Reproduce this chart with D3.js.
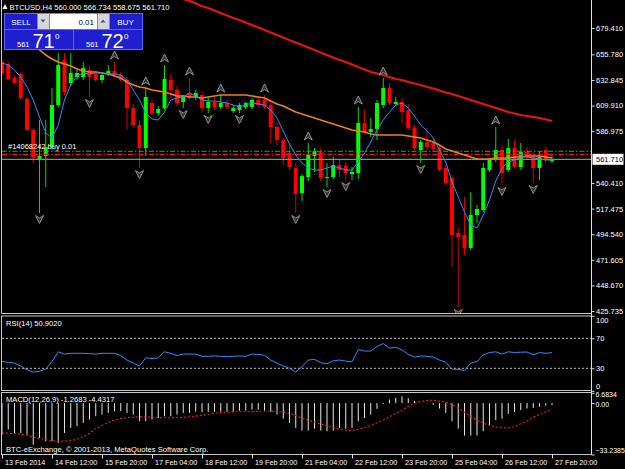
<!DOCTYPE html>
<html>
<head>
<meta charset="utf-8">
<script src="https://cdn.jsdelivr.net/npm/d3@7"></script>
<style>
  html, body { margin: 0; background: #000; overflow: hidden; }
  svg { display: block; }
</style>
</head>
<body>
<div id="chart"></div>
<script>
// BTCUSD H4 — 89 bars, 13 Feb 04:00 .. 27 Feb 20:00
const opens = [648.9,647.1,634.6,638.2,615.8,588.0,562.0,564.7,572.7,610.4,
  650.7,630.1,635.5,635.5,641.8,638.2,632.8,638.2,640.9,637.3,
  632.8,607.7,592.4,571.8,612.2,603.2,607.7,632.8,623.8,613.1,
  621.1,617.6,619.3,607.7,613.1,608.6,612.2,605.0,605.9,608.6,
  608.6,614.9,614.9,610.4,590.7,579.0,567.4,553.9,531.5,545.8,
  564.7,568.2,544.9,545.8,556.6,555.7,548.5,549.4,594.2,586.2,
  588.9,610.4,625.6,611.3,613.1,605.9,589.8,570.0,577.2,576.3,
  571.8,553.9,544.9,495.6,493.8,482.2,511.8,516.3,552.1,561.1,
  570.0,552.1,571.8,554.8,568.2,563.8,553.9,570.0,560.0];
const highs = [650.7,648.9,636.4,640.0,617.6,589.8,596.9,596.9,625.6,657.0,
  657.0,657.0,641.8,648.9,645.3,640.9,638.2,646.2,648.9,640.0,
  635.5,611.3,596.9,625.6,614.9,609.5,646.2,638.2,627.4,619.3,
  634.6,623.8,622.0,617.6,616.7,619.3,614.9,610.4,612.2,613.1,
  616.7,617.6,619.3,613.1,595.1,580.8,576.3,558.4,548.5,576.3,
  571.8,571.8,558.4,563.8,561.1,559.3,554.8,608.6,605.9,598.7,
  614.9,634.6,630.1,617.6,616.7,611.3,592.4,579.0,589.8,579.9,
  573.6,556.6,547.6,500.1,527.9,532.4,520.7,558.4,562.9,590.7,
  574.5,579.9,579.0,576.3,572.7,568.2,568.2,572.7,566.734];
const lows = [637.3,632.8,629.2,614.9,587.1,558.4,513.6,536.9,570.0,608.6,
  619.3,627.4,632.8,632.8,617.6,631.0,630.1,636.4,635.5,631.0,
  588.0,589.8,553.9,564.7,601.4,600.5,605.9,617.6,609.5,607.7,
  614.9,614.9,604.1,603.2,605.9,606.8,606.8,603.2,603.2,606.8,
  606.8,608.6,606.8,576.3,574.5,556.6,552.1,513.6,524.3,542.3,
  550.3,542.3,536.9,544.0,545.8,543.1,543.1,544.0,584.4,581.7,
  579.0,607.7,610.4,609.5,594.2,588.0,570.0,558.4,570.0,568.2,
  550.3,538.7,465.2,429.3,475.9,480.4,504.6,514.5,550.3,559.3,
  538.7,550.3,553.9,552.1,561.1,540.5,543.1,559.3,558.675];
const closes = [639.1,633.7,630.1,616.7,588.0,562.9,564.7,572.7,610.4,646.2,
  622.0,639.1,639.1,643.5,635.5,632.8,637.3,640.9,637.3,632.8,
  607.7,592.4,571.8,617.6,603.2,606.8,633.7,623.8,612.2,617.6,
  616.7,621.1,607.7,613.1,608.6,612.2,608.6,607.7,610.4,612.2,
  614.9,610.4,608.6,590.7,579.0,562.9,554.8,530.6,546.7,565.6,
  569.1,544.9,545.8,556.6,552.1,549.4,550.3,594.2,586.2,588.9,
  612.2,625.6,612.2,613.1,604.1,589.8,571.8,577.2,572.7,570.9,
  552.1,540.5,493.8,492.1,482.2,511.8,517.2,553.9,561.1,570.0,
  549.4,571.8,554.8,568.2,563.8,553.9,563.8,561.1,561.71];

// moving averages on the main chart (null = not drawn)
const maFast = [648.0,646.2,641.8,635.5,626.5,614.9,599.6,585.3,580.8,592.4,
  614.9,628.3,636.4,639.1,638.2,639.1,639.1,638.2,638.2,637.3,
  632.8,623.8,614.9,603.2,597.8,596.9,604.1,614.9,616.7,617.6,
  621.1,618.4,614.9,614.0,614.0,613.1,612.2,610.4,608.6,610.4,
  612.2,611.3,610.4,605.9,598.7,587.1,575.4,565.6,558.4,553.9,
  552.1,552.1,553.9,555.7,553.9,552.1,552.1,559.3,567.4,577.2,
  588.0,596.9,604.1,610.4,612.2,607.7,600.5,592.4,587.1,580.8,
  570.0,559.3,541.4,527.9,514.5,502.8,500.1,511.8,525.2,542.3,
  553.9,559.3,561.1,563.8,563.8,562.9,562.0,561.1,561.1];
const maMid = [null,null,null,null,null,null,659.7,655.2,651.6,648.9,
  647.1,645.3,642.7,640.9,640.0,640.0,639.1,638.2,636.4,634.6,
  631.0,628.3,626.5,625.6,623.8,622.9,622.0,620.2,618.4,618.4,
  617.6,617.6,616.7,617.6,618.4,619.3,619.3,619.3,619.3,619.3,
  618.4,617.6,616.7,613.9,611.3,609.5,606.8,604.1,602.3,600.5,
  598.7,596.9,595.1,593.3,591.6,589.8,588.0,587.1,586.2,584.4,
  583.5,583.5,583.5,583.5,583.5,582.6,581.7,580.8,579.0,577.2,
  574.5,570.9,569.1,567.4,565.6,563.8,562.0,562.0,562.0,562.9,
  562.9,562.9,563.8,563.8,564.7,564.7,564.7,563.8,562.9];
const maSlow = [null,null,null,null,null,null,null,null,null,null,
  null,null,null,null,null,null,null,null,null,null,
  null,null,null,null,null,null,null,null,707.6,705.4,
  703.6,701.4,699.1,697.3,695.1,692.9,690.6,688.4,686.6,684.3,
  682.1,679.9,677.6,675.4,673.1,670.9,668.6,666.4,664.2,661.9,
  659.7,657.4,655.2,653.0,650.7,648.9,646.7,644.4,642.2,640.0,
  638.6,637.3,635.5,633.7,632.8,631.0,629.7,628.3,626.5,625.2,
  623.4,621.6,620.2,618.4,616.7,614.9,613.1,611.3,609.5,607.7,
  605.9,604.1,602.8,601.4,600.5,599.6,598.7,597.4,596.0];

// bar indices carrying a fractal arrow
const fractalUp = [18, 23, 26, 30, 35, 42, 49, 57, 61, 79];
const fractalDown = [6, 14, 22, 29, 33, 38, 47, 52, 55, 67, 73, 80, 85];

// RSI(14)
const rsi = [39,38,37,33,28,25,26,29,39,52,
  49,50,50,50,49.5,49,50,50,50,47,
  41,37,33,44,43,44,52,50,47,49,
  49,49,46,46,46.5,46,45.5,46,46.5,46,
  49,48.5,47.5,41,37,33,30,25,32,41,
  42,37.5,36,40,41,39.5,38.8,55,53,53,
  59,63,57,58,54.5,48.5,45,46.4,46,45,
  41,38,29,28.5,27,37,39,48,51,52,
  49,52,51,51.5,51.7,48,51,50,50.902];

// MACD(12,26,9): main (histogram) and signal (dotted)
const macdMain = [-20.4,-17.1,-19.3,-19.3,-20.4,-26.9,-22.5,-24.7,-24.7,-25.8,
  -19.3,-16,-14.9,-12.8,-10.6,-8.5,-7.4,-6.3,-5.2,-5.2,
  -6.3,-7.4,-11.7,-11.7,-10.6,-9.6,-8.5,-8.5,-7.4,-6.3,
  -6.3,-5.6,-5.8,-5.6,-5.6,-5.6,-5.6,-5.6,-4.9,-4.9,
  -4.2,-4.2,-4.9,-5.6,-7.4,-10,-12.8,-16,-17.8,-17.8,
  -16.5,-17.8,-18.2,-17.8,-16,-16.5,-16,-11.7,-9.6,-7.4,
  -3.7,-0.6,2.3,3.4,4.5,3.2,1.5,0.2,-0.2,-1.1,
  -3.5,-6.3,-11.7,-16.5,-21,-21,-21,-18.2,-14.3,-11,
  -10,-6.9,-5.8,-4.5,-3.5,-3.2,-2.3,-1.6,-1.2683];
const macdSignal = [-19.3,-19.5,-19.8,-20,-21,-22,-22.8,-23.6,-24.3,-24.6,
  -24.5,-24.3,-23.4,-21.8,-19.5,-16.5,-14.5,-12.5,-11,-10,
  -9.3,-9.1,-8.9,-8.9,-9.1,-9.3,-9.5,-9.5,-9.5,-9.2,
  -8.8,-8.4,-8,-7.2,-6.5,-6.1,-5.9,-5.6,-5.6,-5.6,
  -5.5,-5.3,-5.2,-5.3,-5.5,-5.6,-6.7,-8,-9.7,-11,
  -12.3,-13.6,-14.7,-16,-16.9,-17.5,-17.8,-16.9,-15.8,-14.5,
  -12.8,-11,-8.9,-6.5,-4.8,-2,0,1.1,1.7,1.9,
  1.3,0.6,-0.9,-3.1,-5.9,-8.7,-11,-13,-14.3,-15.4,
  -16,-16,-15.2,-13.4,-11.5,-9.1,-7.4,-5.6,-4.4317];

// axis labels
const timeLabels = ["13 Feb 2014","14 Feb 12:00","15 Feb 20:00","17 Feb 04:00","18 Feb 12:00",
  "19 Feb 20:00","21 Feb 04:00","22 Feb 12:00","23 Feb 20:00","25 Feb 04:00","26 Feb 12:00","27 Feb 20:00"];
const priceTicks = [679.41,655.78,632.845,609.91,586.975,540.41,517.475,494.54,471.605,448.67,425.735];
const rsiTicks = [100, 70, 30, 0];
const rsiLevels = [70, 30];
const macdTicks = [6.6834, 0, -33.2385];
const bid = 561.71, tpLevel = 568.9, orderLevel = 566.2;

const W = 625, H = 469;
const FONT = "'Liberation Sans', Arial, sans-serif";
const PANE = {
  left: 1.5, right: 591.5,
  main: { top: 0, bottom: 313.5 },
  rsi: { top: 316, bottom: 390.5 },
  macd: { top: 392.5, bottom: 454.5 }
};

const n = closes.length;
const x = d3.scaleLinear().domain([0, n - 1]).range([2, 552]);
const yP = d3.scaleLinear().domain([425.735, 679.41]).range([311, 28]);
const yR = d3.scaleLinear().domain([0, 100]).range([390.8, 315.8]);
const yM = d3.scaleLinear().domain([-33.2385, 6.6834]).range([454.5, 392.8]);

const svg = d3.select("#chart").append("svg")
  .attr("width", W).attr("height", H)
  .style("background", "#000")
  .attr("font-family", FONT);

const defs = svg.append("defs");
function clip(id, top, bottom) {
  defs.append("clipPath").attr("id", id).append("rect")
    .attr("x", PANE.left + 0.5).attr("y", top)
    .attr("width", PANE.right - PANE.left - 1).attr("height", bottom - top);
}
clip("clipMain", PANE.main.top, PANE.main.bottom - 0.5);
clip("clipRsi", PANE.rsi.top + 0.5, PANE.rsi.bottom - 0.5);
clip("clipMacd", PANE.macd.top + 0.5, PANE.macd.bottom - 0.5);

// ---- main window ----------------------------------------------------------
const gMain = svg.append("g").attr("clip-path", "url(#clipMain)");
const bars = d3.range(n).map(i => ({ i, o: opens[i], h: highs[i], l: lows[i], c: closes[i] }));
const up = d => d.c >= d.o;

const candle = gMain.append("g").selectAll("g").data(bars).join("g");
candle.append("line")
  .attr("x1", d => x(d.i)).attr("x2", d => x(d.i))
  .attr("y1", d => yP(d.h)).attr("y2", d => yP(d.l))
  .attr("stroke", d => up(d) ? "#00e000" : "#d80000").attr("stroke-width", 1);
candle.append("rect")
  .attr("x", d => x(d.i) - 2).attr("width", 4)
  .attr("y", d => yP(Math.max(d.o, d.c)))
  .attr("height", d => Math.max(1, Math.abs(yP(d.o) - yP(d.c))))
  .attr("fill", d => up(d) ? "#00ff00" : "#ff0000");

// order / tp / bid lines
gMain.append("line").attr("x1", 2).attr("x2", PANE.right)
  .attr("y1", yP(tpLevel)).attr("y2", yP(tpLevel))
  .attr("stroke", "#1fb41f").attr("stroke-dasharray", "5,2,1.5,2");
gMain.append("line").attr("x1", 2).attr("x2", PANE.right)
  .attr("y1", yP(orderLevel)).attr("y2", yP(orderLevel))
  .attr("stroke", "#ff1010").attr("stroke-width", 1.2).attr("stroke-dasharray", "5,2,1.5,2");
gMain.append("line").attr("x1", 2).attr("x2", PANE.right)
  .attr("y1", yP(bid)).attr("y2", yP(bid))
  .attr("stroke", "#8a8a8a").attr("stroke-width", 1.2);
gMain.append("text").attr("x", 8).attr("y", yP(tpLevel) - 2)
  .attr("fill", "#fff").attr("font-size", 7.5).text("#14068242 buy 0.01");

function maLine(values, color, width) {
  const line = d3.line().defined(v => v != null).x((v, i) => x(i)).y(v => yP(v));
  gMain.append("path").datum(values).attr("d", line)
    .attr("fill", "none").attr("stroke", color).attr("stroke-width", width)
    .attr("stroke-linejoin", "round");
}
maLine(maSlow, "#ee1111", 2);
maLine(maMid, "#f07f22", 1.6);
maLine(maFast, "#2a8fff", 1);

const arrowUp = "M0,-4 L4,4 L0,1.5 L-4,4 Z";
const arrowDown = "M0,4 L4,-4 L0,-1.5 L-4,-4 Z";
gMain.append("g").selectAll("path").data(fractalUp).join("path")
  .attr("d", arrowUp)
  .attr("transform", i => `translate(${x(i)},${yP(highs[i]) - 7})`)
  .attr("fill", "#333").attr("stroke", "#9a9a9a").attr("stroke-width", 0.9);
gMain.append("g").selectAll("path").data(fractalDown).join("path")
  .attr("d", arrowDown)
  .attr("transform", i => `translate(${x(i)},${yP(lows[i]) + 6.5})`)
  .attr("fill", "#333").attr("stroke", "#9a9a9a").attr("stroke-width", 0.9);

// ---- RSI window -----------------------------------------------------------
const gRsi = svg.append("g").attr("clip-path", "url(#clipRsi)");
gRsi.selectAll("line.lvl").data(rsiLevels).join("line")
  .attr("x1", 2).attr("x2", PANE.right)
  .attr("y1", d => yR(d)).attr("y2", d => yR(d))
  .attr("stroke", "#bdbdbd").attr("stroke-dasharray", "2,2");
gRsi.append("path").datum(rsi)
  .attr("d", d3.line().x((v, i) => x(i)).y(v => yR(v)))
  .attr("fill", "none").attr("stroke", "#2a8fff").attr("stroke-width", 1);

// ---- MACD window ----------------------------------------------------------
const gMacd = svg.append("g").attr("clip-path", "url(#clipMacd)");
gMacd.selectAll("rect").data(macdMain).join("rect")
  .attr("x", (v, i) => x(i) - 0.5).attr("width", 1)
  .attr("y", v => yM(Math.max(0, v)))
  .attr("height", v => Math.abs(yM(v) - yM(0)))
  .attr("fill", "#e6e6e6");
gMacd.append("path").datum(macdSignal)
  .attr("d", d3.line().x((v, i) => x(i)).y(v => yM(v)))
  .attr("fill", "none").attr("stroke", "#ff1a1a").attr("stroke-width", 1.1)
  .attr("stroke-dasharray", "2,2");

// ---- frames ---------------------------------------------------------------
const frame = svg.append("g").attr("fill", "none").attr("stroke", "#c8c8c8");
frame.append("path").attr("d", `M${PANE.left},0 V${PANE.main.bottom} H${PANE.right}`);
frame.append("rect").attr("x", PANE.left).attr("y", PANE.rsi.top)
  .attr("width", PANE.right - PANE.left).attr("height", PANE.rsi.bottom - PANE.rsi.top);
frame.append("rect").attr("x", PANE.left).attr("y", PANE.macd.top)
  .attr("width", PANE.right - PANE.left).attr("height", PANE.macd.bottom - PANE.macd.top);
frame.append("line").attr("x1", PANE.right).attr("x2", PANE.right)
  .attr("y1", 0).attr("y2", PANE.macd.bottom).attr("stroke", "#e0e0e0");

// ---- axes -----------------------------------------------------------------
function styleAxis(g, size) {
  g.attr("font-family", FONT).attr("font-size", size);
  g.select(".domain").remove();
  g.selectAll("line").attr("stroke", "#e0e0e0");
  g.selectAll("text").attr("fill", "#fff");
}
const axP = svg.append("g").attr("transform", `translate(${PANE.right},0)`)
  .call(d3.axisRight(yP).tickValues(priceTicks).tickSize(3).tickFormat(d3.format(".3f")));
styleAxis(axP, 7.5);
axP.selectAll("text").attr("x", 4.5);

// current price label
const bidG = svg.append("g").attr("transform", `translate(${PANE.right},${yP(bid)})`);
bidG.append("rect").attr("x", 1).attr("y", -5.5).attr("width", 31).attr("height", 11).attr("fill", "#fff");
bidG.append("text").attr("x", 4.5).attr("dy", "0.34em").attr("fill", "#000")
  .attr("font-size", 7.5).text(d3.format(".3f")(bid));

const axR = svg.append("g").attr("transform", `translate(${PANE.right},0)`)
  .call(d3.axisRight(yR).tickValues(rsiTicks).tickSize(3));
styleAxis(axR, 7.5);
axR.selectAll("text").attr("x", 4.5)
  .attr("dy", d => d === 100 ? "0.95em" : d === 0 ? "-0.3em" : "0.32em");

const axM = svg.append("g").attr("transform", `translate(${PANE.right},0)`)
  .call(d3.axisRight(yM).tickValues(macdTicks).tickSize(3)
    .tickFormat(d => d === 0 ? "0.00" : d3.format(".4f")(d)));
styleAxis(axM, 7);
axM.selectAll("text").attr("x", 4)
  .attr("dy", d => d > 0 ? "0.55em" : d < 0 ? "-0.3em" : "0.45em");

const axT = svg.append("g").attr("transform", `translate(0,${PANE.macd.bottom})`)
  .call(d3.axisBottom(x).tickValues(d3.range(0, n, 8)).tickSize(4)
    .tickFormat((d, k) => timeLabels[k]));
styleAxis(axT, 7.2);
axT.selectAll("text").attr("text-anchor", "start").attr("x", 2.5).attr("y", 5);

// ---- window captions ------------------------------------------------------
const cap = svg.append("g").attr("fill", "#fff").attr("font-size", 7.6);
cap.append("text").attr("x", 6).attr("y", 326).text("RSI(14) 50.9020");
cap.append("text").attr("x", 6).attr("y", 402).text("MACD(12,26,9) -1.2683 -4.4317");
cap.append("text").attr("x", 6).attr("y", 452)
  .text("BTC-eExchange, \u00a9 2001-2013, MetaQuotes Software Corp.");
cap.append("text").attr("x", 9.5).attr("y", 10).attr("textLength", 160).attr("lengthAdjust", "spacingAndGlyphs")
  .text("BTCUSD,H4  560.000 566.734 558.675 561.710");
svg.append("path").attr("d", "M2.5,9 L5,4 L7.5,9 Z").attr("fill", "#fff");

// ---- one-click trading panel ----------------------------------------------
const panel = svg.append("g");
const BLUE = "#1f1fcf", EDGE = "#6262ff";
function box(x0, y0, w, h, fill, stroke) {
  panel.append("rect").attr("x", x0 + 0.5).attr("y", y0 + 0.5).attr("width", w).attr("height", h)
    .attr("fill", fill).attr("stroke", stroke);
}
box(4, 13, 33, 16, BLUE, EDGE);
box(109, 13, 33, 16, BLUE, EDGE);
box(37, 13, 12, 16, "#d6d6d6", "#8a8a8a");
box(49, 13, 48, 16, "#fff", "#8a8a8a");
box(97, 13, 12, 16, "#d6d6d6", "#8a8a8a");
box(4, 29, 69, 20, BLUE, EDGE);
box(73, 29, 69, 20, BLUE, EDGE);
panel.append("path").attr("d", "M40.5,19.5 h5 l-2.5,3 z").attr("fill", "#3d5a9c");
panel.append("path").attr("d", "M100.5,22.5 h5 l-2.5,-3 z").attr("fill", "#3d5a9c");

const pt = panel.append("g").attr("fill", "#fff");
pt.append("text").attr("x", 21).attr("y", 25).attr("text-anchor", "middle").attr("font-size", 8).text("SELL");
pt.append("text").attr("x", 125.5).attr("y", 25).attr("text-anchor", "middle").attr("font-size", 8).text("BUY");
panel.append("text").attr("x", 94).attr("y", 25).attr("text-anchor", "end")
  .attr("font-size", 8).attr("fill", "#000").text("0.01");

const quotes = [{ x0: 17, big: "71" }, { x0: 86, big: "72" }];
quotes.forEach(q => {
  pt.append("text").attr("x", q.x0).attr("y", 46.5).attr("font-size", 7.5).text("561");
  pt.append("text").attr("x", q.x0 + 15.5).attr("y", 47.5).attr("font-size", 20).text(q.big);
  pt.append("text").attr("x", q.x0 + 38).attr("y", 39).attr("font-size", 8).text("0");
});
</script>
</body>
</html>
